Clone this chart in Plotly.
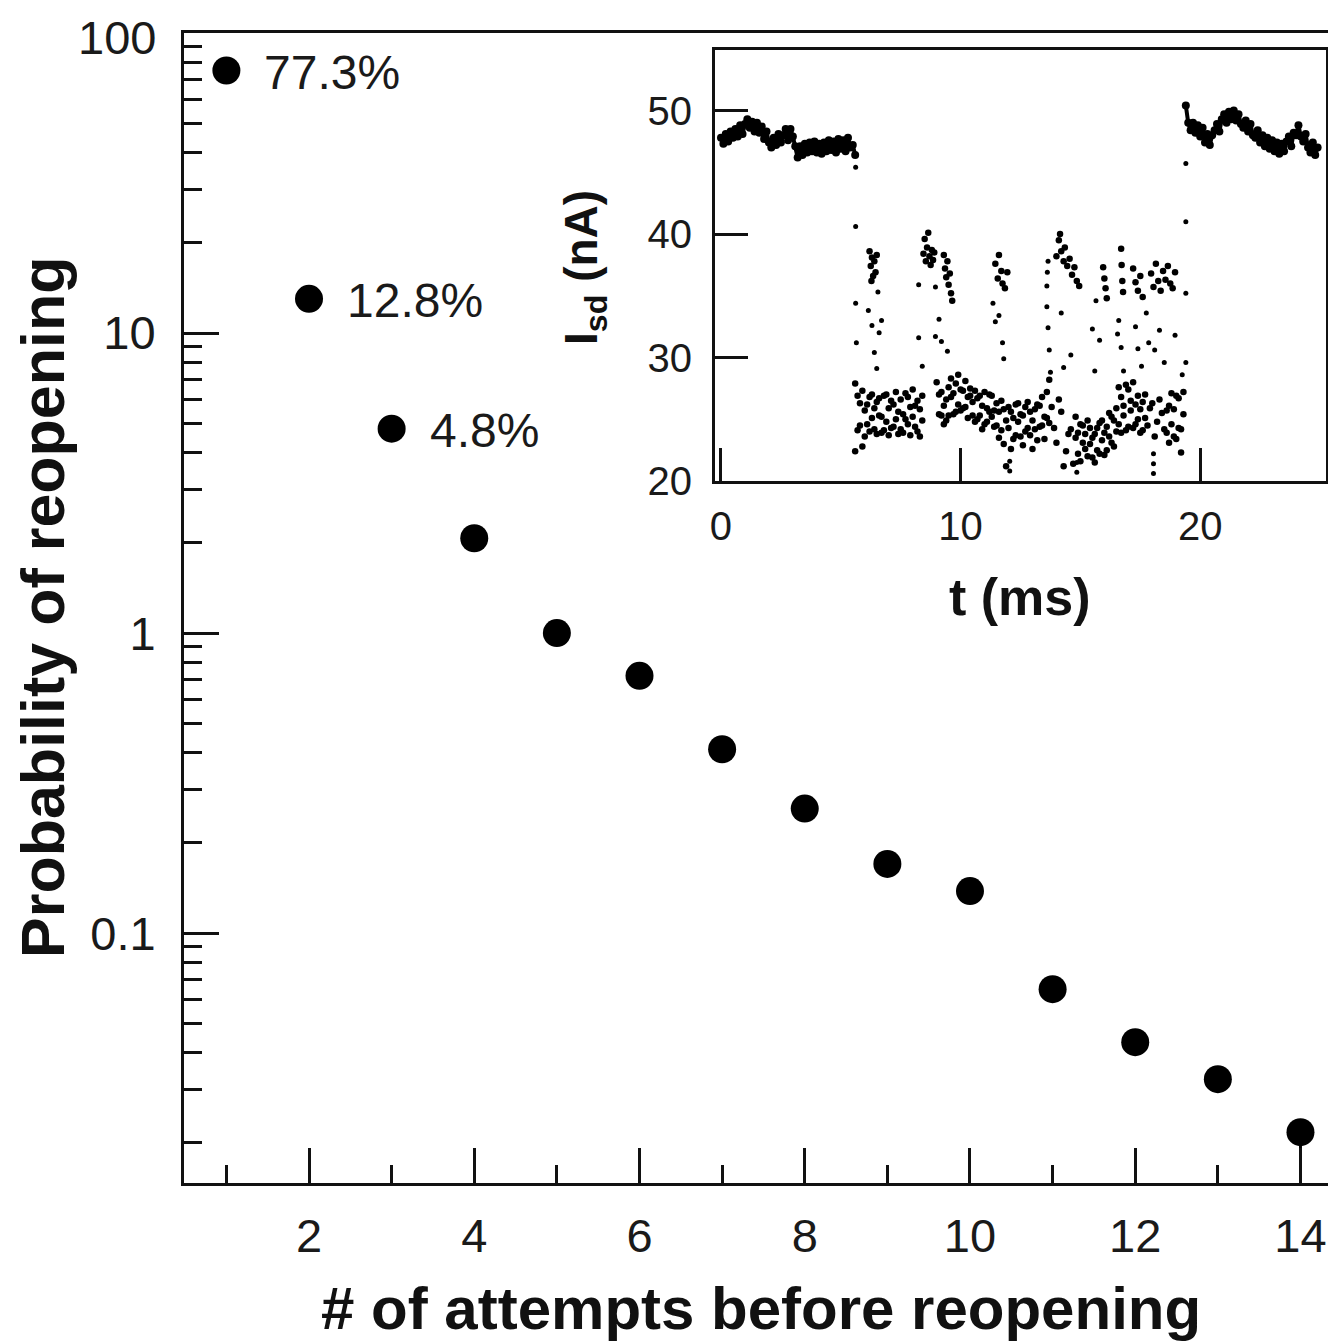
import numpy as np
import plotly.graph_objects as go

# main panel: probability of reopening vs number of attempts
attempts = [1, 2, 3, 4, 5, 6, 7, 8, 9, 10, 11, 12, 13, 14]
prob = [75, 13.0, 4.8, 2.07, 1.0, 0.72, 0.41, 0.26, 0.17, 0.138, 0.065, 0.0433, 0.0326, 0.0217]
prob_err_minus = [0, 0, 0, 0, 0, 0, 0, 0, 0, 0, 0, 0, 0, 0.012]
pct_labels = ["77.3%", "12.8%", "4.8%"]

# inset: Isd (nA) vs t (ms)
t_open1 = [0.0, 0.1, 0.2, 0.3, 0.4, 0.5, 0.6, 0.7, 0.8, 0.9,
           1.0, 1.1, 1.2, 1.3, 1.4, 1.5, 1.6, 1.7, 1.8, 1.9,
           2.0, 2.1, 2.2, 2.3, 2.4, 2.5, 2.6, 2.7, 2.8, 2.9,
           3.0, 3.1, 3.2, 3.3, 3.4, 3.5, 3.6, 3.7, 3.8, 3.9,
           4.0, 4.1, 4.2, 4.3, 4.4, 4.5, 4.6, 4.7, 4.8, 4.9,
           5.0, 5.1, 5.2, 5.3, 5.4, 5.5, 5.6]
i_open1 = [47.8, 47.3, 48.1, 47.5, 48.3, 47.8, 48.5, 47.9, 48.8, 48.1,
           48.9, 49.3, 48.6, 49.1, 48.3, 49.0, 48.2, 48.7, 47.7, 48.3,
           47.4, 47.0, 47.8, 47.2, 48.1, 47.4, 48.0, 48.5, 47.6, 48.5,
           47.9, 47.1, 46.2, 47.1, 46.4, 47.3, 46.6, 47.4, 46.7, 47.5,
           46.6, 47.3, 46.5, 47.4, 46.7, 47.6, 46.8, 47.5, 46.6, 47.7,
           46.9, 47.6, 46.7, 47.8, 47.0, 47.2, 46.4]

t_open2 = [19.4, 19.5, 19.6, 19.7, 19.8, 19.9,
           20.0, 20.1, 20.2, 20.3, 20.4, 20.5, 20.6, 20.7, 20.8, 20.9,
           21.0, 21.1, 21.2, 21.3, 21.4, 21.5, 21.6, 21.7, 21.8, 21.9,
           22.0, 22.1, 22.2, 22.3, 22.4, 22.5, 22.6, 22.7, 22.8, 22.9,
           23.0, 23.1, 23.2, 23.3, 23.4, 23.5, 23.6, 23.7, 23.8, 23.9,
           24.0, 24.1, 24.2, 24.3, 24.4, 24.5, 24.6, 24.7, 24.8, 24.9]
i_open2 = [50.4, 49.0, 48.4, 49.0, 48.2, 48.8,
           47.9, 48.6, 47.4, 48.1, 47.2, 48.0, 48.4, 48.9, 48.3, 49.3,
           49.7, 49.0, 49.9, 49.3, 50.0, 49.2, 49.7, 48.9, 48.6, 49.2,
           48.3, 48.9, 48.0, 47.8, 48.4, 47.4, 48.0, 47.1, 47.8, 46.9,
           47.6, 46.7, 47.4, 46.5, 47.3, 46.7, 47.5, 47.9, 47.1, 48.2,
           48.0, 48.8, 47.9, 47.5, 48.1, 47.0, 46.6, 47.4, 46.4, 47.0]

t_block = [5.6, 5.7, 5.8, 5.9, 6.0, 6.1, 6.2, 6.3, 6.4, 6.5,
           6.6, 6.7, 6.8, 6.9, 7.0, 7.1, 7.2, 7.3, 7.4, 7.5,
           7.6, 7.7, 7.8, 7.9, 8.0, 8.1, 8.2, 8.3, 8.4, 8.5,
           8.6, 8.7, 8.8, 8.9, 9.0, 9.1, 9.2, 9.3, 9.4, 9.5,
           9.6, 9.7, 9.8, 9.9, 10.0, 10.1, 10.2, 10.3, 10.4, 10.5,
           10.6, 10.7, 10.8, 10.9, 11.0, 11.1, 11.2, 11.3, 11.4, 11.5,
           11.6, 11.7, 11.8, 11.9, 12.0, 12.1, 12.2, 12.3, 12.4, 12.5,
           12.6, 12.7, 12.8, 12.9, 13.0, 13.1, 13.2, 13.3, 13.4, 13.5,
           13.6, 13.7, 13.8, 13.9, 14.0, 14.1, 14.2, 14.3, 14.4, 14.5,
           14.6, 14.7, 14.8, 14.9, 15.0, 15.1, 15.2, 15.3, 15.4, 15.5,
           15.6, 15.7, 15.8, 15.9, 16.0, 16.1, 16.2, 16.3, 16.4, 16.5,
           16.6, 16.7, 16.8, 16.9, 17.0, 17.1, 17.2, 17.3, 17.4, 17.5,
           17.6, 17.7, 17.8, 17.9, 18.0, 18.1, 18.2, 18.3, 18.4, 18.5,
           18.6, 18.7, 18.8, 18.9, 19.0, 19.1, 19.2, 19.3]
i_low_a = [27.9, 24.1, 26.3, 22.8, 25.7, 24.6, 26.8, 25.1, 24.2, 26.4,
           25.3, 23.9, 26.9, 24.8, 25.9, 24.3, 26.2, 25.0, 23.8, 26.6,
           25.4, 27.1, 24.6, 26.0, 25.2, 24.4, 26.5, 25.8, 24.9, None,
           None, None, None, None, None, 27.0, 25.3, 26.1, 24.9, 27.6,
           26.8, 25.4, 27.9, 26.2, 25.7, 27.3, 26.0, 25.1, 26.9, 26.4,
           24.8, 26.7, 25.3, 26.1, 24.6, 25.9, 27.0, 25.2, 24.4, 26.3,
           25.6, 24.1, 25.8, 21.2, 24.3, 25.6, 23.4, 26.2, 24.8, 23.6,
           25.3, 24.0, 26.4, 23.7, 24.9, 25.8, 23.3, 26.1, 24.5, 25.2,
           27.2, 24.7, 26.0, None, 23.1, None, 25.6, None, 22.4, None,
           24.2, None, 23.5, 22.2, 24.6, 23.1, 22.6, 24.9, 23.0, 21.9,
           23.8, 22.5, 24.7, 23.3, 22.1, 24.4, 23.6, 25.2, 22.8, 25.9,
           24.6, 26.8, 25.3, 24.1, 27.4, 25.7, 24.3, 26.2, 25.0, 23.9,
           26.4, 25.1, 24.5, None, 26.3, None, 24.8, None, 25.5, None,
           23.9, 26.1, 24.6, 25.8, 23.4, 26.7, 24.2, 25.4]
i_low_b = [22.4, 26.9, 24.5, 27.3, 23.6, 26.2, 24.0, 27.0, 25.9, 23.8,
           26.7, 25.2, 24.1, 27.0, 23.7, 26.5, 24.4, 27.2, 25.6, 24.2,
           23.9, 25.0, 26.8, 23.7, 27.4, 26.1, 24.0, 23.6, 26.9, None,
           None, None, None, None, 28.0, 25.4, 27.2, 24.6, 26.6, 25.3,
           28.3, 27.1, 25.6, 28.6, 27.4, 25.9, 28.1, 26.8, 27.5, 25.3,
           27.3, 25.0, 26.9, 24.2, 27.2, 24.8, 25.6, 26.9, 25.7, 24.5,
           23.5, 26.5, 23.0, 24.9, 26.0, 22.6, 25.1, 23.7, 26.3, 25.4,
           22.9, 26.0, 24.3, 25.6, 22.6, 24.2, 26.2, 24.4, 26.8, 23.4,
           25.1, 28.2, None, 24.3, None, 26.6, None, 21.2, None, 23.8,
           None, 21.4, 25.2, 23.9, 21.6, 24.5, 23.8, 22.0, 24.3, 23.5,
           21.5, 24.3, 22.2, 24.9, 23.9, 22.5, 25.5, 23.1, 24.9, 24.0,
           27.6, 23.9, 26.1, 27.8, 24.4, 26.5, 28.0, 24.6, 26.9, 25.8,
           24.1, 27.0, None, 25.9, None, 23.6, None, 26.6, None, 24.2,
           25.7, 23.1, 27.1, 23.6, 26.9, 24.3, 22.3, 27.2]

t_high = [6.20, 6.25, 6.28, 6.30, 6.35, 6.40, 6.45, 6.50,
          8.45, 8.50, 8.55, 8.60, 8.65, 8.70, 8.75, 8.80, 8.85, 8.90,
          9.30, 9.35, 9.40, 9.45, 9.50, 9.55, 9.60, 9.65,
          11.45, 11.55, 11.60, 11.70, 11.75, 11.85, 11.95,
          14.00, 14.10, 14.15, 14.20, 14.30, 14.35, 14.45, 14.55, 14.65, 14.75, 14.85, 14.95,
          15.95, 16.00, 16.05, 16.10,
          16.70, 16.72, 16.75, 16.78,
          17.20, 17.30, 17.40, 17.50, 17.60,
          17.95, 18.05, 18.15, 18.25, 18.35, 18.45, 18.55, 18.65, 18.75, 18.85, 18.95]
i_high = [38.6, 37.4, 36.2, 38.1, 36.6, 37.8, 36.9, 38.3,
          38.4, 39.6, 37.8, 38.9, 40.1, 38.2, 37.5, 38.7, 37.9, 38.5,
          38.3, 37.2, 36.5, 37.8, 35.9, 36.8, 35.2, 34.6,
          37.6, 36.4, 38.3, 37.0, 36.0, 35.6, 36.9,
          38.2, 39.5, 40.0, 38.6, 37.8, 38.9, 37.4, 38.0, 36.7, 37.3, 36.2, 35.8,
          37.3, 36.4, 35.6, 34.8,
          38.8, 37.5, 36.2, 35.3,
          37.2, 36.1, 35.4, 36.6, 34.9,
          36.8, 35.7, 37.6, 36.2, 35.4, 37.0, 36.3, 37.4, 36.0, 35.6, 36.9]

t_mid = [5.62, 5.62, 5.62, 5.65,
         6.15, 6.30, 6.40, 6.55, 6.50, 6.60, 6.70,
         8.25, 8.25, 8.40, 8.95, 8.95, 9.10, 9.20, 9.45,
         11.35, 11.45, 11.60, 11.75, 11.80,
         13.60, 13.60, 13.65, 13.70, 13.75, 13.65, 13.62,
         14.20, 14.30, 14.60,
         15.50, 15.65, 15.60, 15.80,
         16.60, 16.70, 16.80, 16.55,
         17.30, 17.40, 17.55, 17.75, 17.85, 18.10, 18.30, 18.50,
         18.95, 19.25,
         19.40, 19.40, 19.40, 19.40,
         12.05, 12.05, 14.85, 14.85, 18.05, 18.05, 18.05]
i_mid = [45.4, 40.6, 34.4, 31.2,
         33.8, 32.6, 30.4, 35.3, 29.1, 32.0, 33.0,
         35.9, 31.6, 29.3, 35.7, 31.7, 33.1, 31.3, 30.5,
         34.4, 32.9, 33.4, 31.2, 29.9,
         35.8, 34.1, 32.4, 30.6, 28.8, 37.8, 36.9,
         33.6, 29.2, 30.2,
         32.3, 34.6, 28.9, 31.4,
         33.0, 30.8, 28.9, 31.9,
         32.5, 30.7, 29.3, 33.6, 31.2, 30.6, 32.2, 29.6,
         31.8, 28.6,
         45.7, 41.0, 35.2, 29.6,
         20.8, 21.6, 20.7, 21.5, 20.6, 21.4, 22.2]

FONT = "Liberation Sans, Arial, sans-serif"
# the page body has an 8px margin, so the figure is 8px smaller and positions shifted
OFF = 8
W, H = 1336 - OFF, 1344 - OFF


def px(x, y):
    return (x - OFF) / W, 1 - (y - OFF) / H


fig = go.Figure()

fig.add_trace(go.Scatter(
    x=attempts, y=prob, mode="markers",
    marker=dict(size=28, color="black"),
    error_y=dict(type="data", symmetric=False, array=[0] * len(prob),
                 arrayminus=prob_err_minus, width=0, thickness=3, color="black"),
    xaxis="x", yaxis="y", showlegend=False))

dot = dict(size=6.5, color="black")
for tt, ii in ((t_open1, i_open1), (t_open2, i_open2)):
    fig.add_trace(go.Scatter(x=tt, y=ii, mode="lines+markers",
                             line=dict(color="black", width=4), marker=dict(size=8, color="black"),
                             xaxis="x2", yaxis="y2", showlegend=False))
for ys in (i_low_a, i_low_b):
    fig.add_trace(go.Scatter(x=t_block, y=ys, mode="markers", marker=dot,
                             xaxis="x2", yaxis="y2", showlegend=False))
fig.add_trace(go.Scatter(x=t_high, y=i_high, mode="markers", marker=dot,
                         xaxis="x2", yaxis="y2", showlegend=False))
fig.add_trace(go.Scatter(x=t_mid, y=i_mid, mode="markers", marker=dict(size=5, color="black"),
                         xaxis="x2", yaxis="y2", showlegend=False))

# percentage labels next to the first three points
for k, lab in enumerate(pct_labels):
    fig.add_annotation(x=attempts[k], y=np.log10(prob[k]), xref="x", yref="y",
                       text=lab, showarrow=False, xanchor="left", yanchor="middle",
                       xshift=36, yshift=-2, font=dict(family=FONT, size=48, color="#1a1a1a"))

x0, _ = px(184, 0)
_, y0 = px(0, 1183)
_, y1 = px(0, 33)
ix0, iy1 = px(715, 50)
ix1, iy0 = px(1326, 481)

minor_y = [m * 10.0 ** e for e in range(-2, 2) for m in range(2, 10)]

tickfont = dict(family=FONT, size=47, color="#1a1a1a")
inset_font = dict(family=FONT, size=40, color="#1a1a1a")
fig.update_layout(
    width=W, height=H, margin=dict(l=0, r=0, t=0, b=0),
    plot_bgcolor="white", paper_bgcolor="white",
    xaxis=dict(domain=[x0, 1], range=[0.487, 14.43], showline=True, linewidth=3,
               linecolor="#111", mirror=True, showgrid=False, zeroline=False, automargin=False,
               tickvals=[2, 4, 6, 8, 10, 12, 14], ticks="inside", ticklen=35, tickwidth=3,
               tickcolor="#111", tickfont=tickfont, ticklabelstandoff=10,
               ticklabeloverflow="allow",
               minor=dict(tickvals=[1, 3, 5, 7, 9, 11, 13], ticks="inside", ticklen=18,
                          tickwidth=3, tickcolor="#111", showgrid=False)),
    yaxis=dict(domain=[y0, y1], type="log", range=[-1.833, 2], showline=True, linewidth=3,
               linecolor="#111", showgrid=False, zeroline=False, automargin=False,
               tickvals=[0.1, 1, 10, 100], ticktext=["0.1", "1", "10", ""],
               ticks="inside", ticklen=35, tickwidth=3, tickcolor="#111",
               tickfont=tickfont, ticklabelstandoff=16, ticklabeloverflow="allow",
               minor=dict(tickvals=minor_y, ticks="inside", ticklen=18, tickwidth=3,
                          tickcolor="#111", showgrid=False)),
    xaxis2=dict(domain=[ix0, ix1], range=[-0.25, 25.25], anchor="y2", showline=True,
                linewidth=3, linecolor="#111", mirror=True, showgrid=False, zeroline=False,
                automargin=False, tickvals=[0, 10, 20], ticks="inside", ticklen=33, tickwidth=3,
                tickcolor="#111", tickfont=inset_font, ticklabelstandoff=8),
    yaxis2=dict(domain=[iy0, iy1], range=[20, 54.9], anchor="x2", showline=True,
                linewidth=3, linecolor="#111", mirror=True, showgrid=False, zeroline=False,
                automargin=False, tickvals=[20, 30, 40, 50], ticks="inside", ticklen=33,
                tickwidth=3, tickcolor="#111", tickfont=inset_font, ticklabelstandoff=12),
)

# "100" label at the very top edge is placed by hand (tick label would be clipped)
lx, ly = px(158, 38)
fig.add_annotation(x=lx, y=ly, xref="paper", yref="paper", text="100",
                   showarrow=False, xanchor="right", yanchor="middle",
                   font=tickfont)

# axis titles
ax, ay = px(43, 607)
fig.add_annotation(x=ax, y=ay, xref="paper", yref="paper", text="<b>Probability of reopening</b>",
                   textangle=-90, showarrow=False, xanchor="center", yanchor="middle",
                   font=dict(family=FONT, size=61, color="#111"))
bx, by = px(761, 1308)
fig.add_annotation(x=bx, y=by, xref="paper", yref="paper", text="<b># of attempts before reopening</b>",
                   showarrow=False, xanchor="center", yanchor="middle",
                   font=dict(family=FONT, size=60, color="#111"))
cx, cy = px(1020, 597)
fig.add_annotation(x=cx, y=cy, xref="paper", yref="paper", text="<b>t (ms)</b>",
                   showarrow=False, xanchor="center", yanchor="middle",
                   font=dict(family=FONT, size=52, color="#111"))
dx, dy = px(584, 268)
fig.add_annotation(x=dx, y=dy, xref="paper", yref="paper", text="<b>I<sub>sd</sub> (nA)</b>",
                   textangle=-90, showarrow=False, xanchor="center", yanchor="middle",
                   font=dict(family=FONT, size=46, color="#111"))

fig.write_html("out.html")
